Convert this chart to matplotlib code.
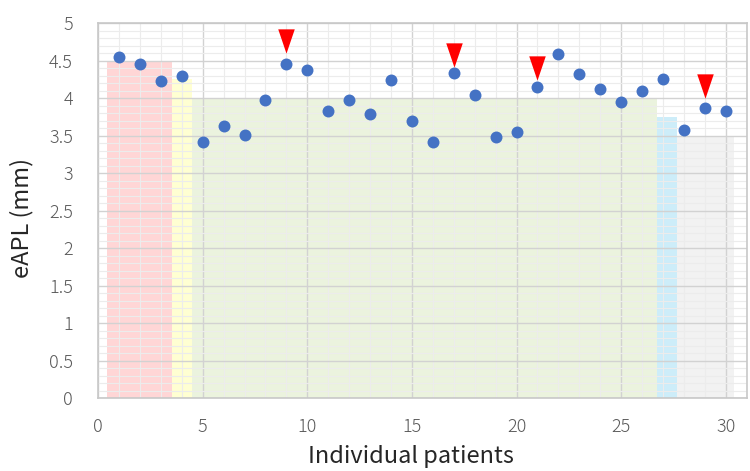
import numpy as np
import matplotlib.pyplot as plt
from matplotlib.ticker import MultipleLocator

# eAPL per patient (mm)
patients = list(range(1, 31))
eapl = [4.55, 4.45, 4.23, 4.29, 3.41, 3.63, 3.51, 3.97, 4.45, 4.38,
        3.83, 3.98, 3.79, 4.24, 3.70, 3.42, 4.33, 4.04, 3.48, 3.55,
        4.15, 4.59, 4.32, 4.12, 3.95, 4.10, 4.25, 3.57, 3.87, 3.83]

# red arrow markers above flagged patients
flag_x = [9, 17, 21, 29]
flag_y = [4.76, 4.58, 4.40, 4.16]

# shaded reference bands: edges on x, height on y
band_edges = [0.45, 3.55, 4.5, 26.7, 27.65, 30.4]
band_tops = [4.5, 4.25, 4.0, 3.75, 3.5]
band_colors = ['#FFD6D6', '#FFFFD2', '#EBF3DE', '#CDEDF9', '#F2F2F2']

plt.rcParams['font.family'] = ['Noto Sans CJK JP', 'DejaVu Sans']
plt.rcParams['font.weight'] = 'light'

fig = plt.figure(figsize=(7.5, 4.71), dpi=100)
ax = fig.add_axes([0.1307, 0.1546, 0.8649, 0.7961])

lefts = np.array(band_edges[:-1])
widths = np.diff(band_edges)
ax.bar(lefts, band_tops, width=widths, align='edge', color=band_colors,
       linewidth=0, zorder=0.3)

ax.set_axisbelow(True)
ax.xaxis.set_major_locator(MultipleLocator(5))
ax.xaxis.set_minor_locator(MultipleLocator(1))
ax.yaxis.set_major_locator(MultipleLocator(0.5))
ax.yaxis.set_minor_locator(MultipleLocator(0.1))
ax.grid(which='major', color='#D2D2D2', linewidth=1.0)
ax.grid(which='minor', color='#ECECEC', linewidth=0.8)

ax.scatter(patients, eapl, s=74, color='#4472C4', zorder=3, linewidths=0)

tri = [(-0.68, 1), (0.68, 1), (0, -1)]
ax.plot(flag_x, flag_y, linestyle='none', marker=tri, markersize=17.5,
        color='#FF0000', markeredgewidth=0, zorder=3)

ax.set_xlim(0, 31)
ax.set_ylim(0, 5)
ax.set_xticks(range(0, 31, 5))
ax.set_yticks(np.arange(0, 5.01, 0.5))
ax.set_yticklabels(['0', '0.5', '1', '1.5', '2', '2.5', '3', '3.5', '4', '4.5', '5'])

ax.tick_params(which='both', length=0, labelsize=13, labelcolor='#595959')
ax.tick_params(axis='x', pad=14)
ax.tick_params(axis='y', pad=18)

for side in ['left', 'right', 'top', 'bottom']:
    ax.spines[side].set_color('#C8C8C8')
    ax.spines[side].set_linewidth(1.2)

ax.set_xlabel('Individual patients', fontsize=17, color='#262626')
ax.set_ylabel('eAPL (mm)', fontsize=17, color='#262626')
ax.xaxis.set_label_coords(0.483, -0.125)
ax.yaxis.set_label_coords(-0.10, 0.48)

fig.savefig('out.png', dpi=100)
